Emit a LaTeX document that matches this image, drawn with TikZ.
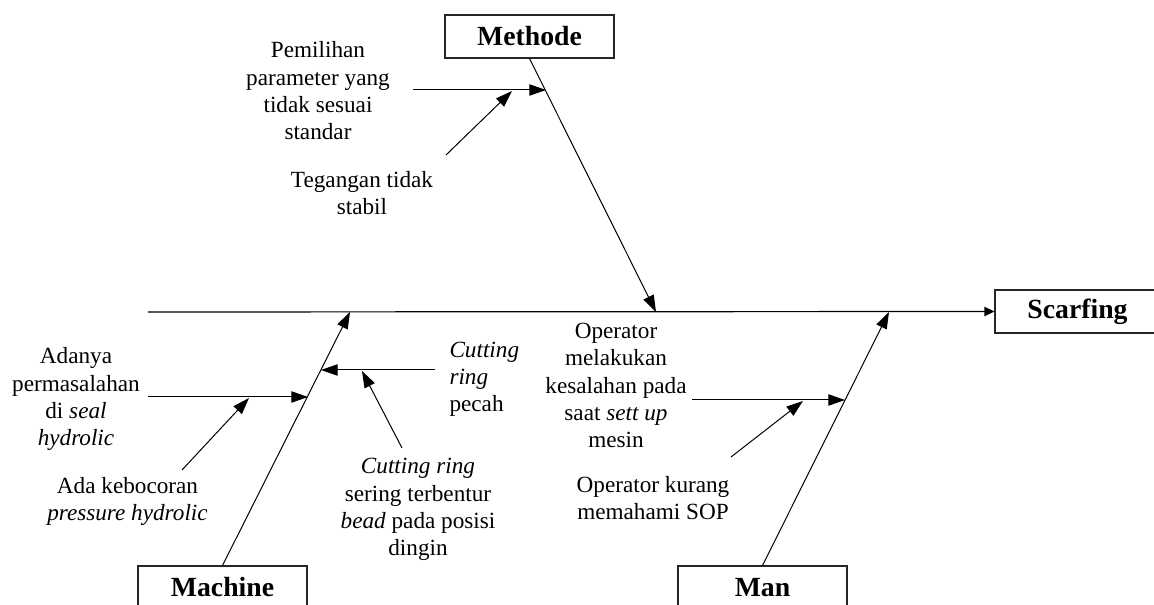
\documentclass[tikz,border=0pt]{standalone}
\usepackage{fontspec}
\setmainfont{Liberation Serif}
\usetikzlibrary{arrows.meta}
\begin{document}
\begin{tikzpicture}[x=0.75pt,y=-0.75pt,
  line width=0.75pt,
  >={Triangle[length=12.5pt,width=8.5pt]},
  catbox/.style={draw=black!85, line width=0.8pt, minimum width=126.75pt, minimum height=32.25pt, inner sep=0pt, font=\fontsize{20.8pt}{24pt}\selectfont\bfseries},
  cause/.style={inner sep=0pt, align=center, anchor=base, font=\fontsize{17.4pt}{20.6pt}\selectfont},
  bone/.style={->},
  spinearrow/.style={-{Triangle[length=7.5pt,width=7pt]}, line width=0.9pt}
]
\useasboundingbox (0,0) rectangle (1154,605);
\clip (0,0) rectangle (1154,605);

% category boxes
\node[catbox] (methode) at (529.5,36.5) {Methode};
\node[catbox, minimum width=123.75pt] (scarf) at (1077.5,311.5) {Scarfing};
\node[catbox] (machine) at (222.5,587.5) {Machine};
\node[catbox] (man) at (762.5,587.5) {Man};

% spine
\coordinate (tail) at (148,312);
\draw[spinearrow] (tail) -- (scarf.west);

% bones
\coordinate (mJ) at (656,312);
\coordinate (mcJ) at (350,312);
\coordinate (mnJ) at (889,312);
\draw[bone] (methode.south) -- (mJ);
\draw[bone] (machine.north) -- (mcJ);
\draw[bone] (man.north) -- (mnJ);

% texts (anchor = baseline of last line)
\node[cause] (p1) at (318,140) {Pemilihan\\parameter yang\\tidak sesuai\\standar};
\node[cause] (p2) at (362,215) {Tegangan tidak\\stabil};
\node[cause] (c1) at (76,446) {Adanya\\permasalahan\\di \textit{seal}\\\textit{hydrolic}};
\node[cause] (c2) at (127.5,521) {Ada kebocoran\\\textit{pressure hydrolic}};
\node[cause, align=left, anchor=base west] (c3) at (449,412) {\textit{Cutting}\\\textit{ring}\\pecah};
\node[cause] (c4) at (418,556) {\textit{Cutting ring}\\sering terbentur\\\textit{bead} pada posisi\\dingin};
\node[cause] (o1) at (616,448) {Operator\\melakukan\\kesalahan pada\\saat \textit{sett up}\\mesin};
\node[cause] (o2) at (653,520) {Operator kurang\\memahami SOP};

% sub-arrows Methode
\coordinate (h1s) at (413,90);
\coordinate (h1e) at (546,90);
\coordinate (d1s) at (446,155);
\coordinate (d1e) at (512,91);
\draw[bone] (h1s) -- (h1e);
\draw[bone] (d1s) -- (d1e);

% sub-arrows Machine
\coordinate (h2s) at (435,370);
\coordinate (h2e) at (321,370);
\coordinate (d2s) at (402,448);
\coordinate (d2e) at (362,371);
\draw[bone] (h2s) -- (h2e);
\draw[bone] (d2s) -- (d2e);
\coordinate (h3s) at (148,397);
\coordinate (h3e) at (308,397);
\coordinate (d3s) at (182,470);
\coordinate (d3e) at (249,398);
\draw[bone] (h3s) -- (h3e);
\draw[bone] (d3s) -- (d3e);

% sub-arrows Man
\coordinate (h4s) at (692,400);
\coordinate (h4e) at (845,400);
\coordinate (d4s) at (731,457);
\coordinate (d4e) at (803,401);
\draw[bone] (h4s) -- (h4e);
\draw[bone] (d4s) -- (d4e);
\end{tikzpicture}
\end{document}
